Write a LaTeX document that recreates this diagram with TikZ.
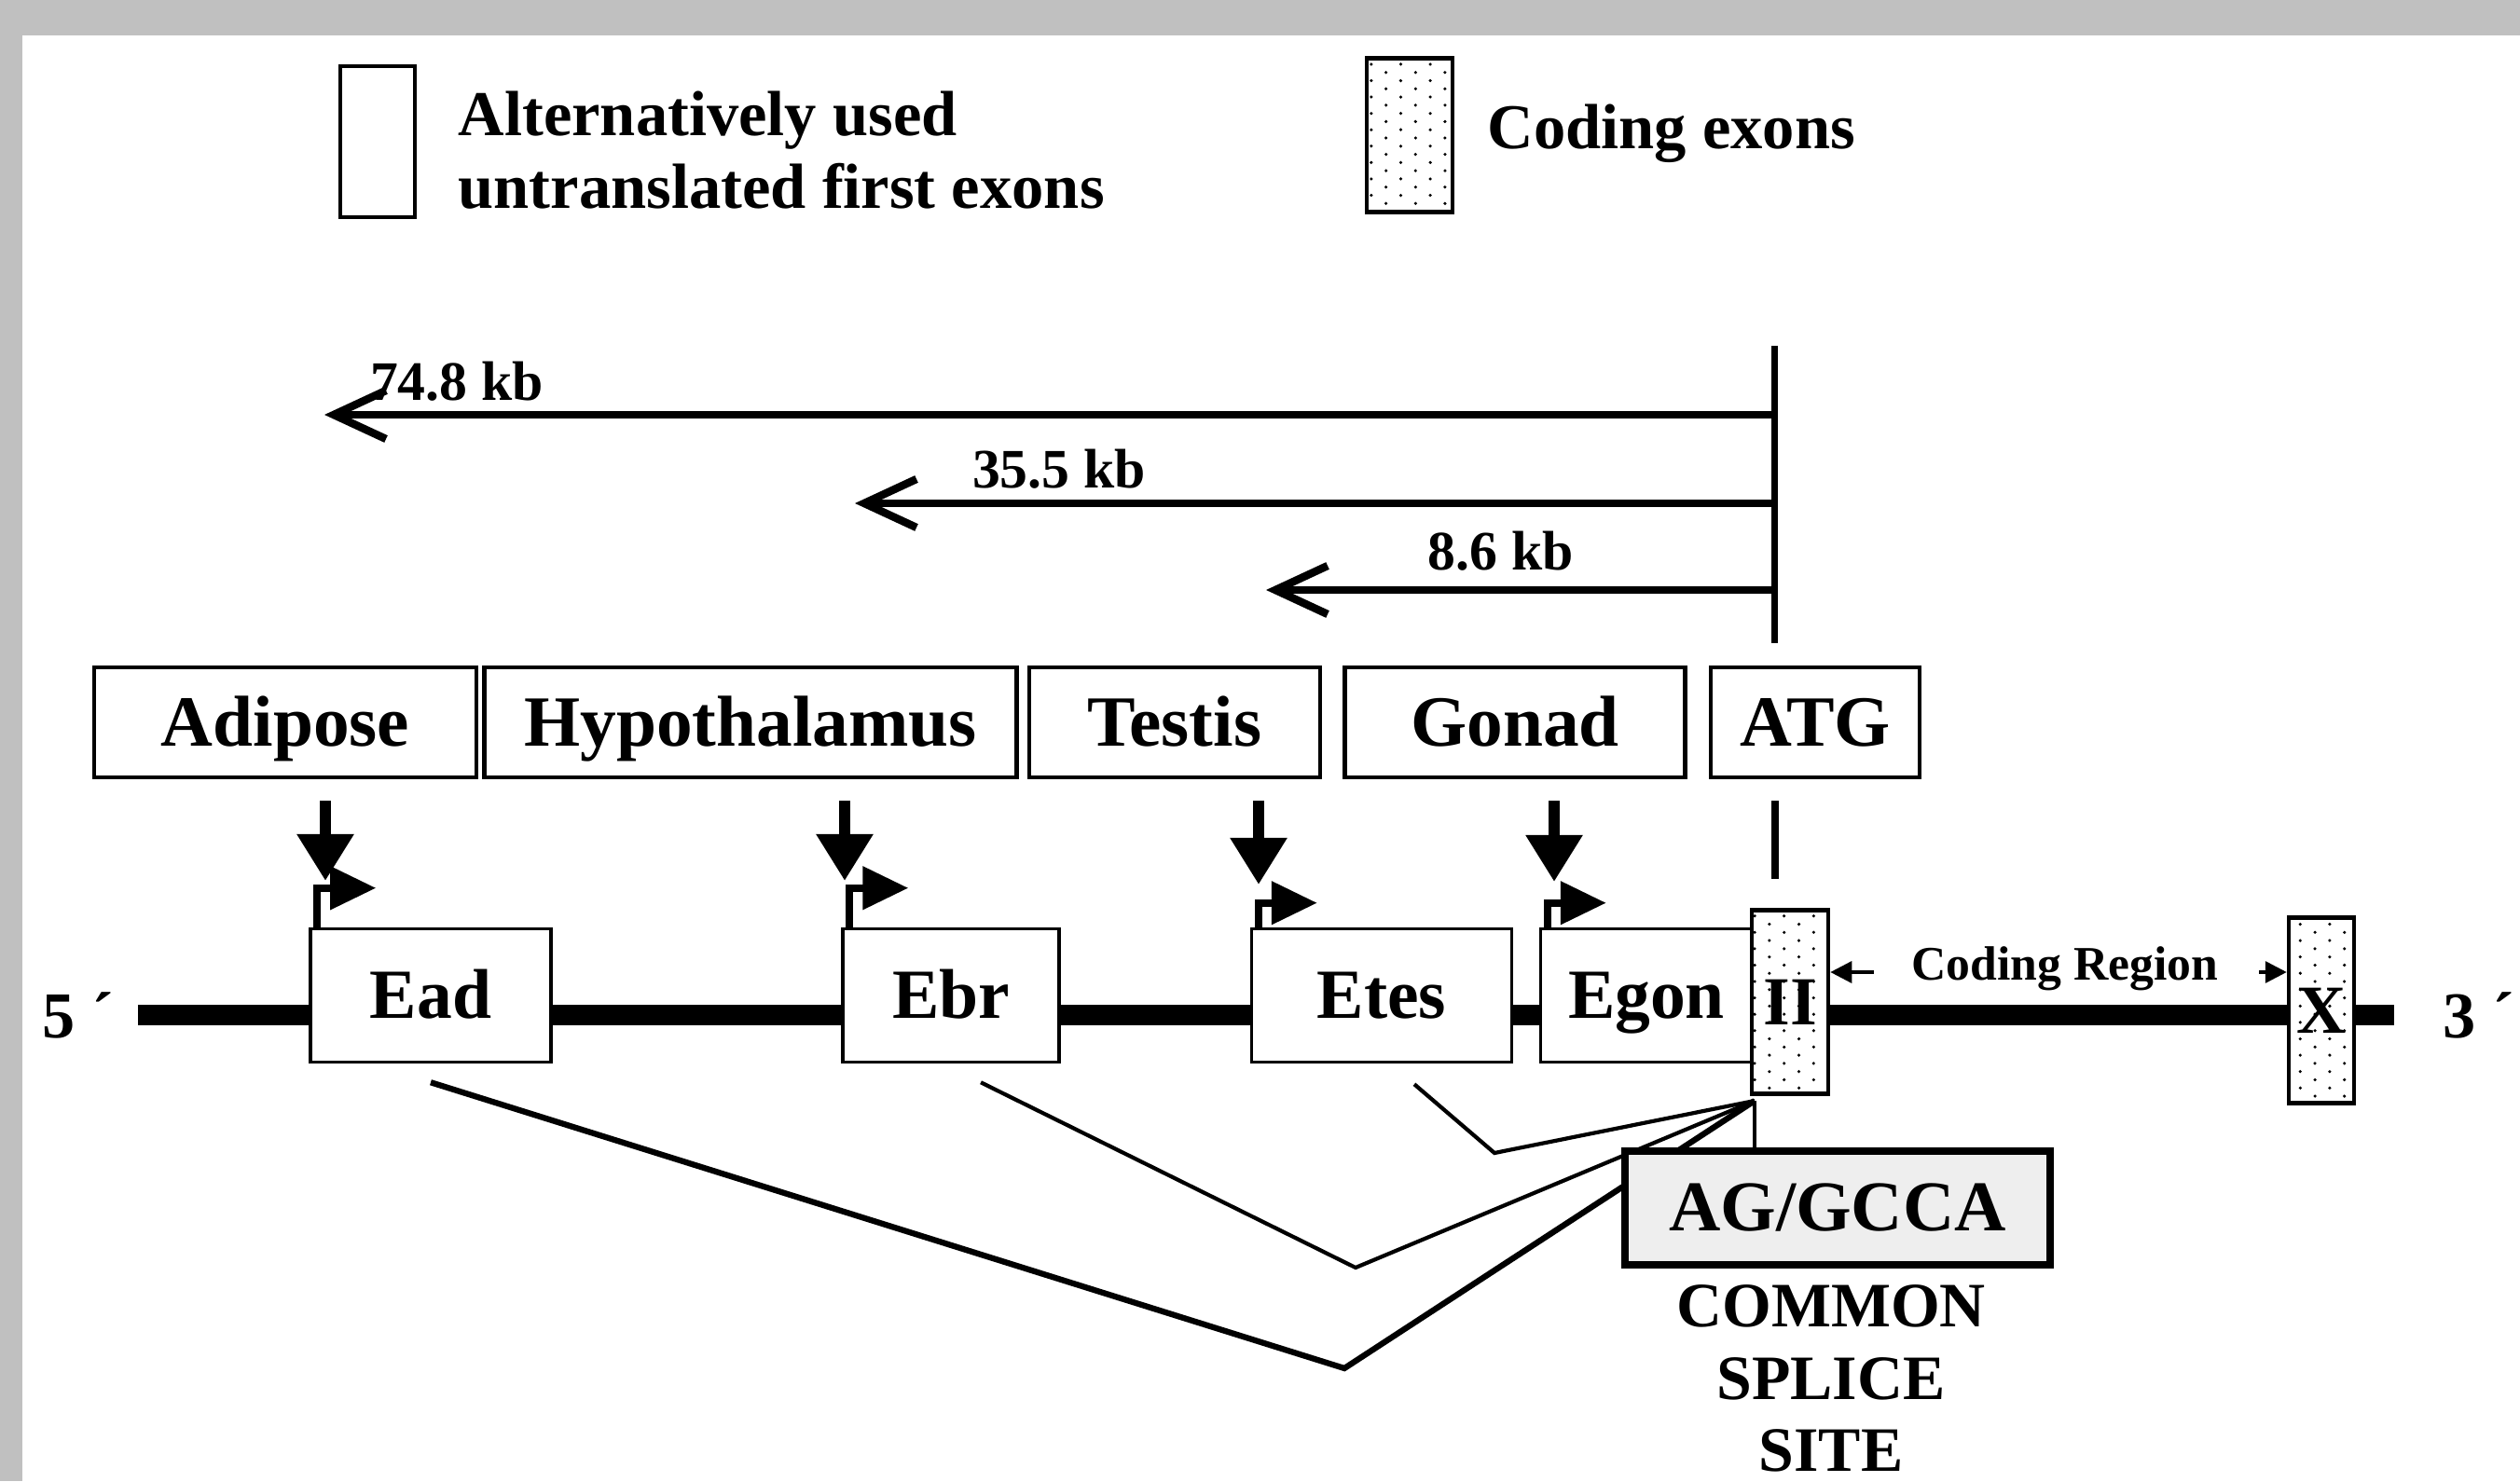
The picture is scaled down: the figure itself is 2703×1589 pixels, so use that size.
\documentclass[tikz,border=0pt]{standalone}
\usepackage{fontspec}
\setmainfont{Liberation Serif}
\usetikzlibrary{arrows.meta, patterns}
\definecolor{framegray}{HTML}{C0C0C0}
\definecolor{sitefill}{HTML}{EEEEEE}
\pgfdeclarepatternformonly{exondots}{\pgfqpoint{-1pt}{-1pt}}{\pgfqpoint{6pt}{4pt}}{\pgfqpoint{9pt}{5pt}}{%
  \pgfpathcircle{\pgfqpoint{0pt}{0pt}}{0.5pt}%
  \pgfpathcircle{\pgfqpoint{4.5pt}{2.5pt}}{0.5pt}%
  \pgfusepath{fill}}

\begin{document}
\begin{tikzpicture}[x=0.1mm, y=0.1mm,
  tissue/.style={draw, line width=1.2pt, minimum height=11.8mm, inner sep=0pt,
    text height=14.6pt, text depth=0pt, font=\fontsize{22}{26}\selectfont\bfseries},
  exon/.style={draw, fill=white, line width=1pt, minimum height=14.3mm, inner sep=0pt,
    text height=14.2pt, text depth=0pt, font=\fontsize{21.5}{26}\selectfont\bfseries},
  coding/.style={draw, line width=1.3pt, preaction={fill=white}, pattern=exondots,
    inner sep=0pt, font=\fontsize{21}{25}\selectfont\bfseries},
  keytext/.style={anchor=west, inner sep=0pt, align=left,
    font=\fontsize{19.5}{22.2}\selectfont\bfseries},
  kb/.style={inner sep=0pt, font=\fontsize{17}{20}\selectfont\bfseries},
  kbarrow/.style={line width=2pt, -{Straight Barb[length=5.6mm, width=5.2mm, line width=2.4pt]}},
  tissuearrow/.style={line width=3.4pt, -{Triangle[length=5mm, width=5.8mm]}},
  promoter/.style={line width=2.3pt, -{Triangle[length=4.9mm, width=4.5mm]}},
  codearrow/.style={line width=1pt, -{Triangle[length=2.3mm, width=2.3mm]}},
  splice/.style={line width=1.2pt}]
\useasboundingbox (0,0) rectangle (2703,1589);
\fill[framegray] (0,0) rectangle (2703,1589);
\fill[white] (24,0) rectangle (2703,1551);

% key
\node[draw, line width=1pt, minimum width=8mm, minimum height=16.2mm, inner sep=0pt] (keyutr) at (405,1437) {};
\node[keytext] (keyutrtext) at (491,1428) {Alternatively used\\untranslated first exons};
\node[coding, minimum width=9.2mm, minimum height=16.5mm] (keycod) at (1512,1444) {};
\node[keytext] (keycodtext) at (1595,1446) {Coding exons};

% distances from the ATG
\coordinate (atgtop) at (1903,1218);
\coordinate (atgbot) at (1903,899);
\draw[line width=2pt] (atgtop) -- (atgbot);
\coordinate (end74) at (348,1144);
\coordinate (end35) at (917,1049);
\coordinate (end86) at (1358,956);
\draw[kbarrow] (atgtop |- end74) -- (end74);
\draw[kbarrow] (atgtop |- end35) -- (end35);
\draw[kbarrow] (atgtop |- end86) -- (end86);
\node[kb] (lab74) at (490,1180) {74.8 kb};
\node[kb] (lab35) at (1136,1086) {35.5 kb};
\node[kb] (lab86) at (1610,998) {8.6 kb};

% tissues
\node[tissue, minimum width=41mm] (adipose) at (306,814) {Adipose};
\node[tissue, minimum width=57.1mm] (hypo) at (805,814) {Hypothalamus};
\node[tissue, minimum width=31.2mm] (testis) at (1260,814) {Testis};
\node[tissue, minimum width=36.5mm] (gonad) at (1625,814) {Gonad};
\node[tissue, minimum width=22.4mm] (atg) at (1947,814) {ATG};

% gene
\node[inner sep=0pt, font=\fontsize{20}{24}\selectfont\bfseries] (fiveprime) at (84,500) {5 ´};
\node[anchor=west, inner sep=0pt, font=\fontsize{20}{24}\selectfont\bfseries] (threeprime) at (2620,500) {3 ´};
\draw[line width=6.5pt, shorten <=2.5mm, shorten >=5.2mm] (fiveprime.east) -- (threeprime.west);

\node[exon, minimum width=25.8mm] (ead) at (462,521) {Ead};
\node[exon, minimum width=23.2mm] (ebr) at (1020,521) {Ebr};
\node[exon, minimum width=27.9mm] (etes) at (1482,521) {Etes};
\node[exon, minimum width=22.7mm] (egon) at (1766,521) {Egon};
\node[coding, minimum width=8.2mm, minimum height=19.7mm] (ex2) at (1920,514) {II};
\node[coding, minimum width=7mm, minimum height=19.9mm] (ex10) at (2490,505) {X};

% promoters
\foreach \e/\h in {ead/4.2mm, ebr/4.2mm, etes/2.6mm, egon/2.6mm}
  \draw[promoter] ([xshift=0.9mm]\e.north west) -- ++(0,\h) -- ++(6.3mm,0);

\coordinate (pad) at (349,644);
\coordinate (pbr) at (906,644);
\coordinate (ptes) at (1350,640);
\coordinate (pgon) at (1667,643);
\coordinate (atgcut) at (1904,646);
\draw[tissuearrow, shorten <=2.3mm] (adipose.south -| pad) -- (pad);
\draw[tissuearrow, shorten <=2.3mm] (hypo.south -| pbr) -- (pbr);
\draw[tissuearrow, shorten <=2.3mm] (testis.south -| ptes) -- (ptes);
\draw[tissuearrow, shorten <=2.3mm] (gonad.south -| pgon) -- (pgon);
\draw[line width=2.2pt, shorten <=2.3mm] (atg.south -| atgcut) -- (atgcut);

% coding region
\node[anchor=base, inner sep=0pt, font=\fontsize{14.7}{18}\selectfont\bfseries] (codreg) at (2215,537) {Coding Region};
\coordinate (crl) at (2010,546);
\coordinate (crr) at (2423,546);
\draw[codearrow] (crl) -- (crl -| ex2.east);
\draw[codearrow] (crr) -- (crr -| ex10.west);

% splicing
\coordinate (junction) at (1882,408);
\coordinate (vad) at (1442,121);
\coordinate (vbr) at (1454,229);
\coordinate (vtes) at (1603,352);
\draw[splice, line width=1.8pt] ([yshift=-2mm]ead.south) -- (vad) -- (junction);
\draw[splice] ([xshift=3.2mm, yshift=-2mm]ebr.south) -- (vbr) -- (junction);
\draw[splice] ([xshift=3.5mm, yshift=-2.2mm]etes.south) -- (vtes) -- (junction);

\node[draw, line width=2.5pt, fill=sitefill, minimum width=45.6mm, minimum height=12.2mm, inner sep=0pt,
  font=\fontsize{21.8}{26}\selectfont\bfseries] (site) at (1971,293) {AG/GCCA};
\draw[splice] (junction) -- (junction |- site.north);
\node[align=center, inner sep=0pt, font=\fontsize{19.3}{22}\selectfont\bfseries] (sitelabel) at (1964,110) {COMMON\\SPLICE\\SITE};
\end{tikzpicture}
\end{document}
